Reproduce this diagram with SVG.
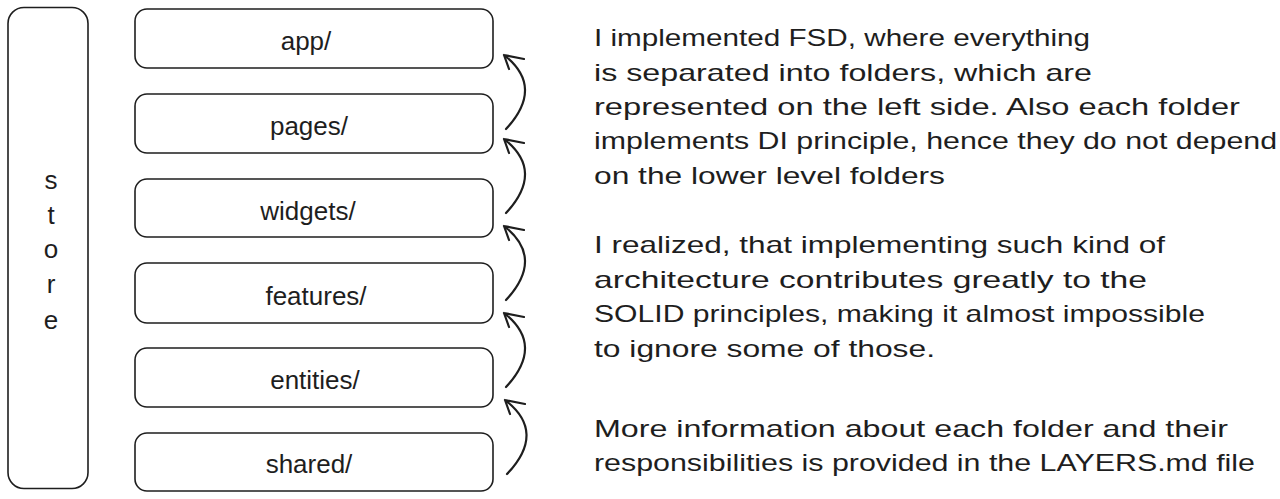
<svg xmlns="http://www.w3.org/2000/svg" width="1280" height="499" viewBox="0 0 1280 499">
<defs>
<style>
.box{fill:#ffffff;stroke:#1e1e1e;stroke-width:1.6}
.lbl{font-family:"Liberation Sans",Arial,sans-serif;font-size:26px;fill:#1e1e1e;text-anchor:middle}
.txt{font-family:"Liberation Sans",Arial,sans-serif;font-size:24px;fill:#1e1e1e}
.arr{fill:none;stroke:#1e1e1e;stroke-width:2.2;stroke-linecap:round;stroke-linejoin:round}
</style>
</defs>
<rect width="1280" height="499" fill="#ffffff"/>
<g id="store">
<rect class="box" x="8" y="7.5" width="80" height="481" rx="16"/>
<text class="lbl" x="51" y="189">s</text>
<text class="lbl" x="51" y="224">t</text>
<text class="lbl" x="51" y="258">o</text>
<text class="lbl" x="51" y="293">r</text>
<text class="lbl" x="51" y="329">e</text>
</g>
<g id="app">
<rect class="box" x="135" y="9" width="358" height="59" rx="12"/>
<text class="lbl" x="306" y="50">app/</text>
</g>
<g id="pages">
<rect class="box" x="135" y="94" width="358" height="59" rx="12"/>
<text class="lbl" x="309" y="135">pages/</text>
</g>
<g id="widgets">
<rect class="box" x="135" y="179" width="358" height="58" rx="12"/>
<text class="lbl" x="308" y="220">widgets/</text>
</g>
<g id="features">
<rect class="box" x="135" y="263" width="358" height="60" rx="12"/>
<text class="lbl" x="316" y="305">features/</text>
</g>
<g id="entities">
<rect class="box" x="135" y="348" width="358" height="59" rx="12"/>
<text class="lbl" x="315" y="389">entities/</text>
</g>
<g id="shared">
<rect class="box" x="135" y="433" width="358" height="58" rx="12"/>
<text class="lbl" x="309" y="473">shared/</text>
</g>
<g id="connectors">
<path class="arr" d="M506,129 Q545,87 504,55 M524,59 L504,55 L509,69"/>
<path class="arr" d="M506,213 Q545,171 504,139 M524,143 L504,139 L509,153"/>
<path class="arr" d="M506,300 Q545,258 504,226 M524,230 L504,226 L509,240"/>
<path class="arr" d="M506,387 Q545,345 504,313 M524,317 L504,313 L509,327"/>
<path class="arr" d="M507,474 Q547,432 505,400 M525,404 L505,400 L510,414"/>
</g>
<g id="notes">
<text class="txt" x="594" y="46" textLength="496" lengthAdjust="spacingAndGlyphs">I implemented FSD, where everything</text>
<text class="txt" x="594" y="81" textLength="498" lengthAdjust="spacingAndGlyphs">is separated into folders, which are</text>
<text class="txt" x="594" y="115" textLength="646" lengthAdjust="spacingAndGlyphs">represented on the left side. Also each folder</text>
<text class="txt" x="594" y="149" textLength="683" lengthAdjust="spacingAndGlyphs">implements DI principle, hence they do not depend</text>
<text class="txt" x="594" y="184" textLength="351" lengthAdjust="spacingAndGlyphs">on the lower level folders</text>
<text class="txt" x="594" y="253" textLength="571" lengthAdjust="spacingAndGlyphs">I realized, that implementing such kind of</text>
<text class="txt" x="594" y="288" textLength="553" lengthAdjust="spacingAndGlyphs">architecture contributes greatly to the</text>
<text class="txt" x="594" y="322" textLength="611" lengthAdjust="spacingAndGlyphs">SOLID principles, making it almost impossible</text>
<text class="txt" x="594" y="357" textLength="341" lengthAdjust="spacingAndGlyphs">to ignore some of those.</text>
<text class="txt" x="594" y="437" textLength="634" lengthAdjust="spacingAndGlyphs">More information about each folder and their</text>
<text class="txt" x="594" y="471" textLength="661" lengthAdjust="spacingAndGlyphs">responsibilities is provided in the LAYERS.md file</text>
</g>
</svg>
